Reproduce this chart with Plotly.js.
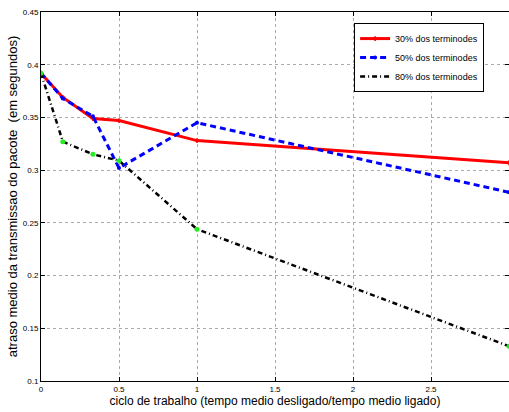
<!DOCTYPE html>
<html>
<head>
<meta charset="utf-8">
<script src="https://cdn.plot.ly/plotly-3.0.1.min.js"></script>
<style>html,body{margin:0;padding:0;background:#fff;}#chart{width:509px;height:412px;}</style>
</head>
<body>
<div id="chart"></div>
<script>
const dutyCycle = [0, 0.14, 0.333, 0.5, 1, 3];
const delay30 = [0.392, 0.369, 0.349, 0.347, 0.328, 0.307];
const delay50 = [0.392, 0.368, 0.351, 0.302, 0.345, 0.279];
const delay80 = [0.392, 0.327, 0.315, 0.309, 0.244, 0.133];
const seriesNames = ['30% dos terminodes', '50% dos terminodes', '80% dos terminodes'];
const xTicks = [0, 0.5, 1, 1.5, 2, 2.5, 3];
const xTickText = ['0', '0.5', '1', '1.5', '2', '2.5', '3'];
const yTicks = [0.1, 0.15, 0.2, 0.25, 0.3, 0.35, 0.4, 0.45];
const yTickText = ['0.1', '0.15', '0.2', '0.25', '0.3', '0.35', '0.4', '0.45'];

const traces = [
  {x: dutyCycle, y: delay30, name: seriesNames[0], mode: 'lines+markers',
   line: {color: '#ff0000', width: 3}, marker: {color: '#ff0000', size: 4, symbol: 'cross'}},
  {x: dutyCycle, y: delay50, name: seriesNames[1], mode: 'lines+markers',
   line: {color: '#0000ff', width: 3, dash: '6px,4px'}, marker: {color: '#0000ff', size: 4}},
  {x: dutyCycle, y: delay80, name: seriesNames[2], mode: 'lines',
   line: {color: '#000000', width: 2.5, dash: '5px,3px,1px,3px'}},
  {x: dutyCycle, y: delay80, mode: 'markers', showlegend: false, hoverinfo: 'skip',
   marker: {color: '#22ee22', size: 5}}
];

const layout = {
  width: 509, height: 412,
  margin: {l: 41, r: 0, t: 12, b: 31},
  paper_bgcolor: '#ffffff', plot_bgcolor: '#ffffff',
  font: {family: 'Liberation Sans, Arial, sans-serif', color: '#000'},
  showlegend: true,
  legend: {x: 0.669, y: 0.97, xanchor: 'left', yanchor: 'top',
           bordercolor: '#000', borderwidth: 1, bgcolor: '#fff',
           font: {size: 9, family: 'Liberation Sans, Arial, sans-serif'},
           itemwidth: 30, tracegroupgap: 0},
  xaxis: {range: [0, 3], tickvals: xTicks, ticktext: xTickText,
          ticks: 'inside', ticklen: 4, tickcolor: '#000', mirror: 'ticks',
          showline: true, linecolor: '#000', linewidth: 1,
          showgrid: true, gridcolor: '#aaaaaa', griddash: 'dot', gridwidth: 1,
          zeroline: false, tickfont: {size: 8},
          title: {text: 'ciclo de trabalho (tempo medio desligado/tempo medio ligado)',
                  font: {size: 12}, standoff: 4}},
  yaxis: {range: [0.1, 0.45], tickvals: yTicks, ticktext: yTickText,
          ticks: 'inside', ticklen: 4, tickcolor: '#000', mirror: 'ticks',
          showline: true, linecolor: '#000', linewidth: 1,
          showgrid: true, gridcolor: '#aaaaaa', griddash: 'dot', gridwidth: 1,
          zeroline: false, tickfont: {size: 8},
          title: {text: 'atraso medio da transmissao do pacote  (em segundos)',
                  font: {size: 13}, standoff: 2}}
};

Plotly.newPlot('chart', traces, layout, {displayModeBar: false, staticPlot: true});
</script>
</body>
</html>
